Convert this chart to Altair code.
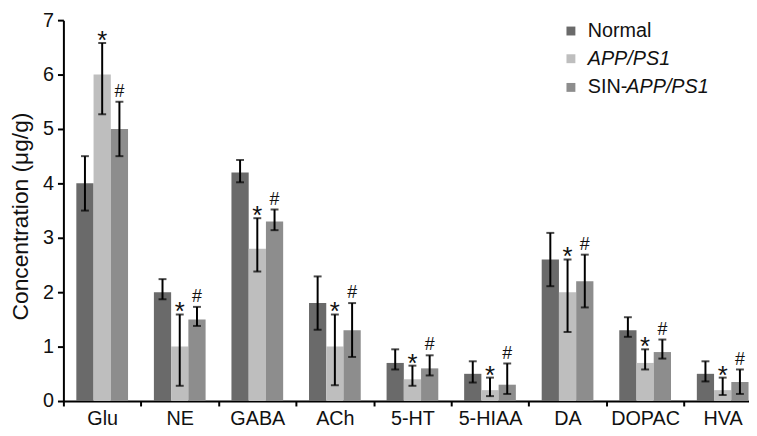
import altair as alt
import pandas as pd

categories = ["Glu", "NE", "GABA", "ACh", "5-HT", "5-HIAA", "DA", "DOPAC", "HVA"]
groups = ["Normal", "APP/PS1", "SIN-APP/PS1"]
group_colors = ["#6a6a6a", "#bebebe", "#8d8d8d"]
group_marks = ["", "*", "#"]

normal_mean = [4.0, 2.0, 4.2, 1.8, 0.7, 0.5, 2.6, 1.3, 0.5]
normal_lo = [3.5, 1.87, 4.02, 1.31, 0.58, 0.34, 2.11, 1.18, 0.36]
normal_hi = [4.5, 2.24, 4.43, 2.29, 0.95, 0.73, 3.09, 1.54, 0.73]

app_mean = [6.0, 1.0, 2.8, 1.0, 0.4, 0.2, 2.0, 0.7, 0.2]
app_lo = [5.27, 0.28, 2.38, 0.29, 0.28, 0.09, 1.27, 0.58, 0.11]
app_hi = [6.58, 1.59, 3.36, 1.59, 0.65, 0.43, 2.6, 0.95, 0.43]

sin_mean = [5.0, 1.5, 3.3, 1.3, 0.6, 0.3, 2.2, 0.9, 0.35]
sin_lo = [4.5, 1.38, 3.14, 0.81, 0.47, 0.13, 1.72, 0.78, 0.13]
sin_hi = [5.5, 1.73, 3.52, 1.8, 0.84, 0.69, 2.69, 1.13, 0.58]

y_ticks = [0, 1, 2, 3, 4, 5, 6, 7]

FONT = "Liberation Sans"

series = [
    (normal_mean, normal_lo, normal_hi),
    (app_mean, app_lo, app_hi),
    (sin_mean, sin_lo, sin_hi),
]
rows = []
for gi, g in enumerate(groups):
    m, lo, hi = series[gi]
    for ci, c in enumerate(categories):
        rows.append({"category": c, "group": g, "mean": m[ci], "lo": lo[ci],
                     "hi": hi[ci], "mark": group_marks[gi]})
df = pd.DataFrame(rows)

x_enc = alt.X(
    "category:N", sort=categories,
    scale=alt.Scale(range=[0, 705.6], paddingInner=0, paddingOuter=0),
    axis=alt.Axis(title=None, labelAngle=0, labelFontSize=20, labelFont=FONT,
                  labelColor="#111111", tickBand="extent", tickSize=5, tickWidth=2,
                  tickColor="black", domainColor="black", domainWidth=2,
                  labelPadding=3, grid=False),
)
xo = alt.XOffset("group:N", sort=groups,
                 scale=alt.Scale(paddingInner=0, paddingOuter=0.75))
y_scale = alt.Scale(domain=[0, 7], nice=False, zero=True)

base = alt.Chart(df)

bars = base.mark_bar().encode(
    x=x_enc, xOffset=xo,
    y=alt.Y("mean:Q", scale=y_scale,
            axis=alt.Axis(values=y_ticks, format="d", title="Concentration (μg/g)",
                          grid=False,
                          labelFontSize=20, labelFont=FONT, labelColor="#111111",
                          tickSize=6, tickWidth=2, tickColor="black",
                          domainColor="black", domainWidth=2, labelPadding=4,
                          titleFont=FONT, titleFontSize=23, titleFontWeight="normal",
                          titleColor="#111111", titleAngle=270, titleX=-31, titleY=198,
                          titleAlign="center", titleBaseline="bottom")),
    color=alt.Color("group:N", sort=groups,
                    scale=alt.Scale(domain=groups, range=group_colors), legend=None),
)

err = base.mark_rule(color="black", strokeWidth=2).encode(
    x=alt.X("category:N", sort=categories), xOffset=xo,
    y=alt.Y("lo:Q", scale=y_scale), y2="hi:Q",
)
cap_hi = base.mark_tick(orient="horizontal", size=8, thickness=2, color="black").encode(
    x=alt.X("category:N", sort=categories), xOffset=xo,
    y=alt.Y("hi:Q", scale=y_scale),
)
cap_lo = base.mark_tick(orient="horizontal", size=8, thickness=2, color="black").encode(
    x=alt.X("category:N", sort=categories), xOffset=xo,
    y=alt.Y("lo:Q", scale=y_scale),
)
stars = base.transform_filter(alt.datum.mark == "*").mark_text(
    font=FONT, fontSize=26, baseline="alphabetic", dy=6, color="#111111"
).encode(
    x=alt.X("category:N", sort=categories), xOffset=xo,
    y=alt.Y("hi:Q", scale=y_scale), text="mark:N",
)
hashes = base.transform_filter(alt.datum.mark == "#").mark_text(
    font=FONT, fontSize=18, baseline="alphabetic", dy=-5, color="#111111"
).encode(
    x=alt.X("category:N", sort=categories), xOffset=xo,
    y=alt.Y("hi:Q", scale=y_scale), text="mark:N",
)

# manual legend (to allow italic gene names)
leg_y = [11, 39, 68]
legend_layers = []
leg_df = pd.DataFrame({"group": groups})
for i, g in enumerate(groups):
    d = alt.Chart(leg_df).transform_filter(alt.datum.group == g)
    legend_layers.append(
        d.mark_square(size=81, opacity=1, color=group_colors[i]).encode(
            x=alt.value(513), y=alt.value(leg_y[i]))
    )
    if g == "Normal":
        legend_layers.append(d.mark_text(font=FONT, fontSize=20, align="left",
                                         baseline="middle", color="#111111").encode(
            x=alt.value(530), y=alt.value(leg_y[i]), text=alt.value("Normal")))
    elif g == "APP/PS1":
        legend_layers.append(d.mark_text(font=FONT, fontSize=20, align="left",
                                         baseline="middle", fontStyle="italic",
                                         color="#111111").encode(
            x=alt.value(530), y=alt.value(leg_y[i]), text=alt.value("APP/PS1")))
    else:
        legend_layers.append(d.mark_text(font=FONT, fontSize=20, align="left",
                                         baseline="middle", color="#111111").encode(
            x=alt.value(530), y=alt.value(leg_y[i]), text=alt.value("SIN-")))
        legend_layers.append(d.mark_text(font=FONT, fontSize=20, align="left",
                                         baseline="middle", fontStyle="italic",
                                         color="#111111").encode(
            x=alt.value(569), y=alt.value(leg_y[i]), text=alt.value("APP/PS1")))

chart = alt.layer(bars, err, cap_hi, cap_lo, stars, hashes, *legend_layers).properties(
    width=693, height=385,
    padding={"left": 56, "top": 10, "right": 0, "bottom": 25},
    autosize=alt.AutoSizeParams(type="none"),
    background="white",
).configure_view(stroke=None)

chart.save("out.html", embed_options={"renderer": "svg", "actions": False})
